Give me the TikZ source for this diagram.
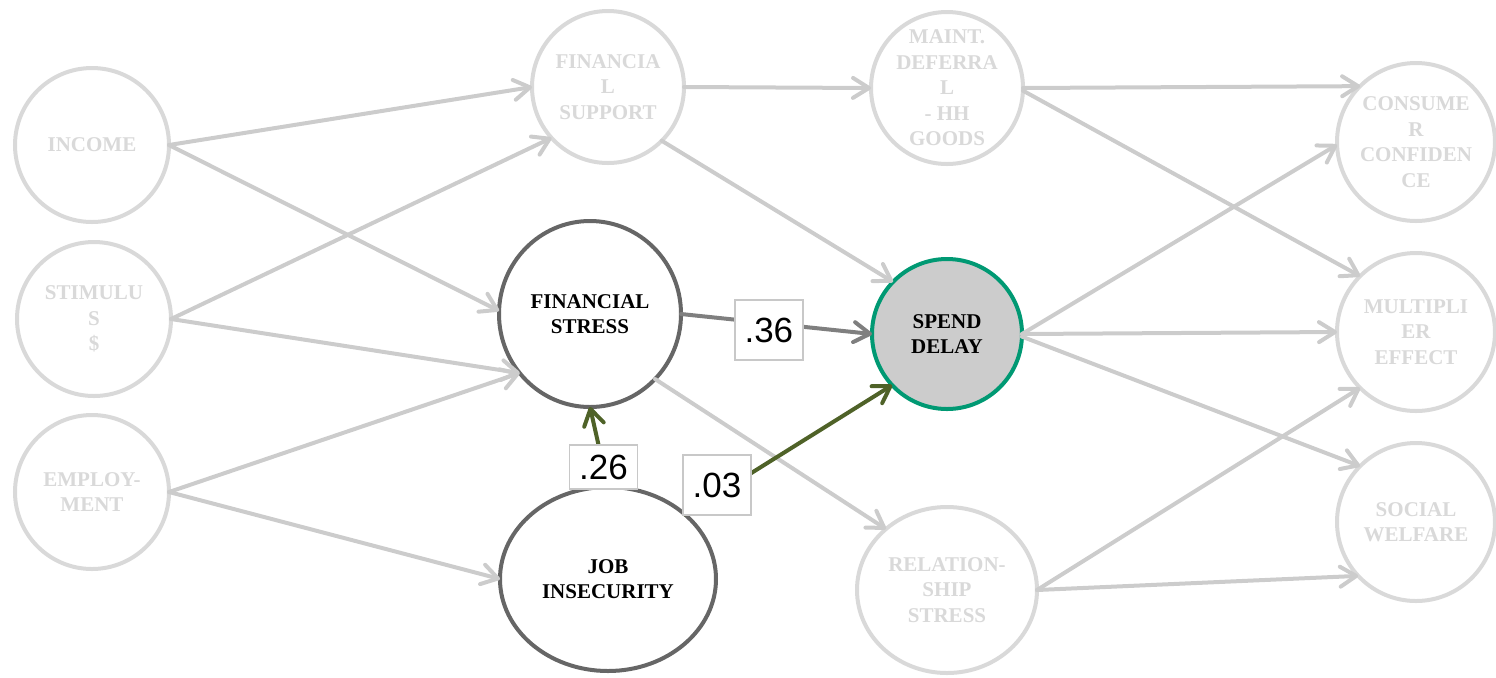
\documentclass[tikz,border=0pt]{standalone}
\usepackage{fontspec}
\setmainfont{Liberation Serif}
\newfontfamily\lblfont{Liberation Sans}
\usetikzlibrary{shapes.geometric,arrows.meta}
\definecolor{lightnode}{RGB}{217,217,217}
\definecolor{edgegray}{RGB}{204,204,204}
\definecolor{darknode}{RGB}{102,102,102}
\definecolor{spendteal}{RGB}{0,153,115}
\definecolor{pathgreen}{RGB}{79,98,40}
\definecolor{midgray}{RGB}{127,127,127}
\definecolor{boxgray}{RGB}{200,200,200}
\definecolor{sdfill}{RGB}{204,204,204}
\begin{document}
\begin{tikzpicture}[x=0.5pt,y=-0.5pt,
  var/.style={ellipse, line width=2pt, fill=white, inner sep=-12pt, outer sep=0pt,
    align=center, font=\bfseries\fontsize{10.5}{12.75}\selectfont},
  faded/.style={var, draw=lightnode, text=lightnode},
  focal/.style={var, draw=darknode, text=black},
  conn/.style={draw=edgegray, line width=2pt, line cap=round,
    -{Straight Barb[length=8pt,width=10pt,round]}},
  lbl/.style={draw=boxgray, line width=0.8pt, fill=white, inner sep=0pt,
    minimum width=34pt, minimum height=30pt, text=black,
    font=\lblfont\fontsize{17.5}{20}\selectfont}
]
\useasboundingbox (0,0) rectangle (1496,677);

% nodes
\node[faded, minimum width=77pt, minimum height=77pt] (inc) at (92,145) {INCOME};
\node[faded, minimum width=77pt, minimum height=77pt] (stim) at (94,319) {STIMULU\\S\\\$};
\node[faded, minimum width=77pt, minimum height=77pt] (emp) at (92,492) {EMPLOY-\\MENT};
\node[faded, minimum width=76pt, minimum height=76pt] (fsup) at (608,87) {FINANCIA\\L\\SUPPORT};
\node[focal, minimum width=91pt, minimum height=93pt] (fstr) at (590,314) {FINANCIAL\\STRESS};
\node[focal, minimum width=108pt, minimum height=92pt] (ji) at (608,579) {JOB\\INSECURITY};
\node[faded, minimum width=76pt, minimum height=76pt] (maint) at (947,88) {MAINT.\\DEFERRA\\L\\- HH\\GOODS};
\node[var, draw=spendteal, fill=sdfill, text=black, minimum width=75pt, minimum height=75pt] (sd) at (947,334) {SPEND\\DELAY};
\node[faded, minimum width=90pt, minimum height=83pt] (rel) at (947,590) {RELATION-\\SHIP\\STRESS};
\node[faded, minimum width=79pt, minimum height=79pt] (cons) at (1416,142) {CONSUME\\R\\CONFIDEN\\CE};
\node[faded, minimum width=79pt, minimum height=79pt] (mult) at (1416,332) {MULTIPLI\\ER\\EFFECT};
\node[faded, minimum width=79pt, minimum height=79pt] (soc) at (1416,522) {SOCIAL\\WELFARE};

% faded connectors
\draw[conn] (inc.0) -- (fsup.180);
\draw[conn] (inc.0) -- (fstr.178);
\draw[conn] (stim.0) -- (fsup.222);
\draw[conn] (stim.0) -- (fstr.220);
\draw[conn] (emp.0) -- (fstr.220);
\draw[conn] (emp.0) -- (ji.180);
\draw[conn] (fsup.0) -- (maint.180);
\draw[conn] (fsup.315) -- (sd.136);
\draw[conn] (fstr.315) -- (rel.135);
\draw[conn] (maint.0) -- (cons.135);
\draw[conn] (maint.-2) -- (mult.135);
\draw[conn] (sd.0) -- (cons.182);
\draw[conn] (sd.0) -- (mult.180);
\draw[conn] (sd.-2) -- (soc.135);
\draw[conn] (rel.0) -- (mult.225);
\draw[conn] (rel.0) -- (soc.223);

% highlighted connectors
\draw[conn, draw=midgray] (fstr.0) -- node[lbl, pos=0.46, yshift=-3.5pt] {.36} (sd.180);
\draw[conn, draw=pathgreen] (ji.90) -- node[lbl, pos=0.25, minimum height=22pt] {.26} (fstr.270);
\draw[conn, draw=pathgreen] (ji.40) -- node[lbl, pos=0.155, yshift=4.7pt] {.03} (sd.223);
\end{tikzpicture}
\end{document}
